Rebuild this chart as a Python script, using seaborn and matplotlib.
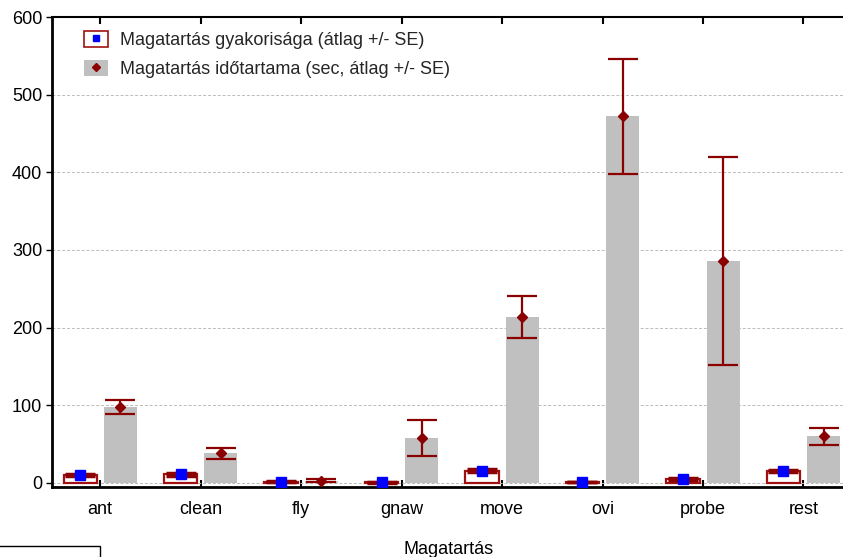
import numpy as np
import pandas as pd
import matplotlib
matplotlib.use("Agg")
import matplotlib.pyplot as plt
import seaborn as sns
from matplotlib.patches import Patch, Rectangle
from matplotlib.lines import Line2D

categories = ["ant", "clean", "fly", "gnaw", "move", "ovi", "probe", "rest"]
freq_mean = [10, 11, 1.5, 1, 16, 1, 5, 15]
freq_se = [1.5, 1.5, 0.5, 0.5, 1.5, 0.3, 1.0, 1.5]
dur_mean = [98, 38, 3, 58, 214, 472, 286, 60]
dur_se = [9, 7.5, 1.5, 23, 27, 74, 134, 10.5]
series = ["Magatartás gyakorisága (átlag +/- SE)",
          "Magatartás időtartama (sec, átlag +/- SE)"]

sns.set_theme(style="white")
plt.rcParams['font.family'] = ['Liberation Sans', 'DejaVu Sans']

df = pd.DataFrame({
    "cat": categories * 2,
    "series": [series[0]] * len(categories) + [series[1]] * len(categories),
    "value": freq_mean + dur_mean,
})

fig = plt.figure(figsize=(8.43, 5.57), dpi=100)
ax = fig.add_axes([52 / 843, 1 - 487 / 557, 1 - 52 / 843 + 0.002, (487 - 17) / 557])

sns.barplot(data=df, x="cat", y="value", hue="series", hue_order=series,
            order=categories, errorbar=None, gap=0.175, legend=False, ax=ax,
            palette=["white", "#C0C0C0"])

red = "#8B0000"
n = len(categories)
bars = ax.patches[:2 * n]
for i, p in enumerate(bars):
    if i < n:
        p.set_facecolor("white")
        p.set_edgecolor("#A01010")
        p.set_linewidth(1.6)
    else:
        p.set_facecolor("#C0C0C0")
        p.set_edgecolor("none")
    p.set_zorder(2)

fx = [p.get_x() + p.get_width() / 2 for p in bars[:n]]
dx = [p.get_x() + p.get_width() / 2 for p in bars[n:]]

ax.errorbar(fx, freq_mean, yerr=freq_se, fmt="s", color=red, ecolor=red,
            mfc="#0000FF", mec="#0000FF", markersize=7, capsize=11,
            elinewidth=1.6, capthick=2.5, zorder=4)
ax.errorbar(dx, dur_mean, yerr=dur_se, fmt="D", color=red, ecolor=red,
            mfc=red, mec=red, markersize=5, capsize=10.5,
            elinewidth=1.6, capthick=1.6, zorder=4)

fs = 13
ax.set_ylim(-5.2, 600)
ax.set_xlim(-0.48, 7.41)
ax.set_yticks([0, 100, 200, 300, 400, 500, 600])
ax.yaxis.grid(True, linestyle=(0, (3, 2)), color="#BBBBBB", linewidth=0.7)
ax.set_axisbelow(True)
ax.set_xlabel("Magatartás", fontsize=fs, color="black")
ax.xaxis.set_label_coords(0.5, -0.115)
ax.set_ylabel("")
ax.tick_params(axis="x", direction="in", length=5, width=1.5, top=True,
               bottom=True, labelsize=fs, pad=10, colors="black")
ax.tick_params(axis="y", direction="out", length=4, width=1, left=True,
               labelsize=fs, pad=3, colors="black")
for s in ax.spines.values():
    s.set_color("black")
    s.set_linewidth(1.5)
ax.spines["left"].set_linewidth(2)
ax.spines["bottom"].set_linewidth(2)

h1 = (Patch(facecolor="white", edgecolor="#A01010", linewidth=1.2),
      Line2D([], [], marker="s", linestyle="none", color="#0000FF", markersize=5))
h2 = (Patch(facecolor="#C0C0C0", edgecolor="none"),
      Line2D([], [], marker="D", linestyle="none", color=red, markersize=4))
ax.legend([h1, h2], series, loc="upper left", bbox_to_anchor=(0.02, 1.005),
          frameon=False, fontsize=fs, handlelength=1.3, handleheight=1.0,
          labelspacing=0.6, handletextpad=0.7)

fig.patches.append(Rectangle((-0.01, -0.05), 100 / 843 + 0.01,
                             (557 - 545.5) / 557 + 0.05,
                             transform=fig.transFigure, fill=False,
                             edgecolor="black", linewidth=1))

fig.savefig("out.png", dpi=100)
